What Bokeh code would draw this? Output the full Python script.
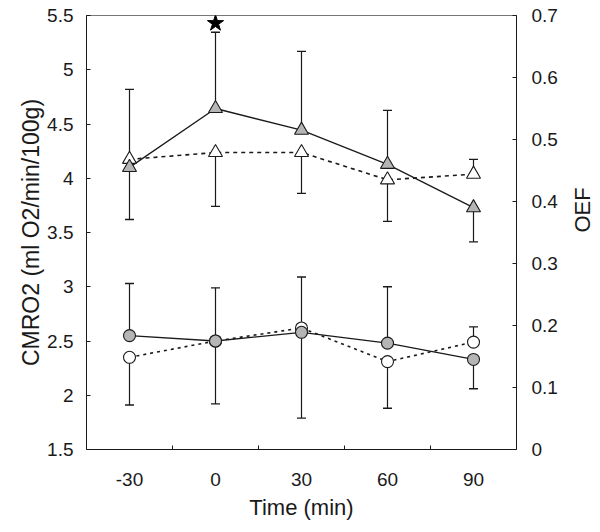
import math
from bokeh.plotting import figure
from bokeh.models import Range1d, LinearAxis, FixedTicker, CustomJSTickFormatter
from bokeh.embed import file_html
from bokeh.resources import INLINE

# ---- data ----
time = [-30, 0, 30, 60, 90]
x_label_ticks = [-30, 0, 30, 60, 90]
x_boundary_ticks = [-15, 15, 45, 75]
cmro2_ticks = [1.5, 2, 2.5, 3, 3.5, 4, 4.5, 5, 5.5]
oef_ticks = [0, 0.1, 0.2, 0.3, 0.4, 0.5, 0.6, 0.7]

# OEF (triangles, right axis)
oef_grey = [0.455, 0.550, 0.515, 0.460, 0.390]
oef_grey_sd = [0.126, 0.123, 0.127, 0.087, 0.055]
oef_grey_dir = [1, 1, 1, 1, -1]
oef_white = [0.468, 0.479, 0.479, 0.435, 0.444]
oef_white_sd = [0.097, 0.087, 0.066, 0.067, 0.024]
oef_white_dir = [-1, -1, -1, -1, 1]

# CMRO2 (circles, left axis)
cmro2_grey = [2.55, 2.50, 2.58, 2.48, 2.33]
cmro2_grey_sd = [0.48, 0.49, 0.51, 0.52, 0.27]
cmro2_grey_dir = [1, 1, 1, 1, -1]
cmro2_white = [2.35, 2.50, 2.62, 2.31, 2.49]
cmro2_white_sd = [0.44, 0.58, 0.83, 0.43, 0.14]
cmro2_white_dir = [-1, -1, -1, -1, 1]

significant = [False, True, False, False, False]

FONT = "Liberation Sans"
GREY = "#b5b5b5"
INK = "#1a1a1a"

p = figure(width=600, height=532, frame_width=430, frame_height=434,
           x_range=Range1d(-45, 105), y_range=Range1d(1.5, 5.5),
           output_backend="svg", toolbar_location=None,
           min_border_left=86, min_border_right=84, min_border_top=15, min_border_bottom=83)
p.extra_y_ranges = {"oef": Range1d(0, 0.7)}
p.xgrid.visible = False
p.ygrid.visible = False
p.outline_line_color = "#777777"
p.outline_line_width = 1
p.background_fill_color = "white"
p.border_fill_color = "white"

# x axis
xa = p.xaxis[0]
xa.ticker = FixedTicker(ticks=x_label_ticks, minor_ticks=x_boundary_ticks)
xa.major_tick_line_color = None
xa.minor_tick_in = 4
xa.minor_tick_out = 0
xa.minor_tick_line_color = INK
xa.axis_line_color = INK
xa.axis_label = "Time (min)"
xa.axis_label_text_font = FONT
xa.axis_label_text_font_size = "22px"
xa.axis_label_text_font_style = "normal"
xa.axis_label_text_color = INK
xa.axis_label_standoff = 6
xa.major_label_text_font = FONT
xa.major_label_text_font_size = "19px"
xa.major_label_text_color = INK
xa.major_label_standoff = 17
xa.formatter = CustomJSTickFormatter(code="return tick.toString();")

# left axis
ya = p.yaxis[0]
ya.ticker = FixedTicker(ticks=cmro2_ticks, minor_ticks=[])
ya.formatter = CustomJSTickFormatter(code="return tick.toString();")
ya.major_tick_in = 4
ya.major_tick_out = 0
ya.major_tick_line_color = INK
ya.axis_line_color = INK
ya.axis_label = "CMRO2 (ml O2/min/100g)"
ya.axis_label_text_font = FONT
ya.axis_label_text_font_size = "23px"
ya.axis_label_text_font_style = "normal"
ya.axis_label_text_color = INK
ya.axis_label_standoff = 0
ya.major_label_text_font = FONT
ya.major_label_text_font_size = "19px"
ya.major_label_text_color = INK
ya.major_label_standoff = 13

# right axis
ra = LinearAxis(y_range_name="oef",
                ticker=FixedTicker(ticks=oef_ticks, minor_ticks=[]),
                formatter=CustomJSTickFormatter(code="return tick.toString();"))
ra.major_tick_in = 4
ra.major_tick_out = 0
ra.major_tick_line_color = INK
ra.axis_line_color = INK
ra.axis_label = "OEF"
ra.axis_label_text_font = FONT
ra.axis_label_text_font_size = "22px"
ra.axis_label_text_font_style = "normal"
ra.axis_label_text_color = INK
ra.axis_label_standoff = 22
ra.major_label_text_font = FONT
ra.major_label_text_font_size = "19px"
ra.major_label_text_color = INK
ra.major_label_standoff = 15
try:
    ra.axis_label_orientation = math.pi / 2
except Exception:
    pass
p.add_layout(ra, "right")


def caps(mean, sd, direction):
    return [m + d * s for m, s, d in zip(mean, sd, direction)]


# connecting lines
p.line(time, oef_grey, y_range_name="oef", line_color=INK, line_width=1.3)
p.line(time, oef_white, y_range_name="oef", line_color=INK, line_width=1.6, line_dash="4 4")
p.line(time, cmro2_grey, line_color=INK, line_width=1.3)
p.line(time, cmro2_white, line_color=INK, line_width=1.6, line_dash="3 4")

# error bars
series = [
    (oef_grey, oef_grey_sd, oef_grey_dir, "oef"),
    (oef_white, oef_white_sd, oef_white_dir, "oef"),
    (cmro2_grey, cmro2_grey_sd, cmro2_grey_dir, "default"),
    (cmro2_white, cmro2_white_sd, cmro2_white_dir, "default"),
]
for mean, sd, d, rng in series:
    top = caps(mean, sd, d)
    p.segment(x0=time, y0=mean, x1=time, y1=top, y_range_name=rng,
              line_color=INK, line_width=1.2)
    p.scatter(time, top, y_range_name=rng, marker="dash", size=9,
              line_color=INK, line_width=1.3)

# markers (white first, grey on top)
p.scatter(time, oef_white, y_range_name="oef", marker="triangle", size=14,
          fill_color="white", line_color=INK, line_width=1.1)
p.scatter(time, oef_grey, y_range_name="oef", marker="triangle", size=14,
          fill_color=GREY, line_color=INK, line_width=1.1)
p.scatter(time, cmro2_white, marker="circle", size=12,
          fill_color="white", line_color=INK, line_width=1.1)
p.scatter(time, cmro2_grey, marker="circle", size=12,
          fill_color=GREY, line_color=INK, line_width=1.1)

# significance star
grey_top = caps(oef_grey, oef_grey_sd, oef_grey_dir)
star_x = [t for t, s in zip(time, significant) if s]
star_y = [v + 0.0145 for v, s in zip(grey_top, significant) if s]
p.scatter(star_x, star_y, y_range_name="oef", marker="star", size=17,
          fill_color="black", line_color="black")

open("out.html", "w").write(file_html(p, INLINE))
